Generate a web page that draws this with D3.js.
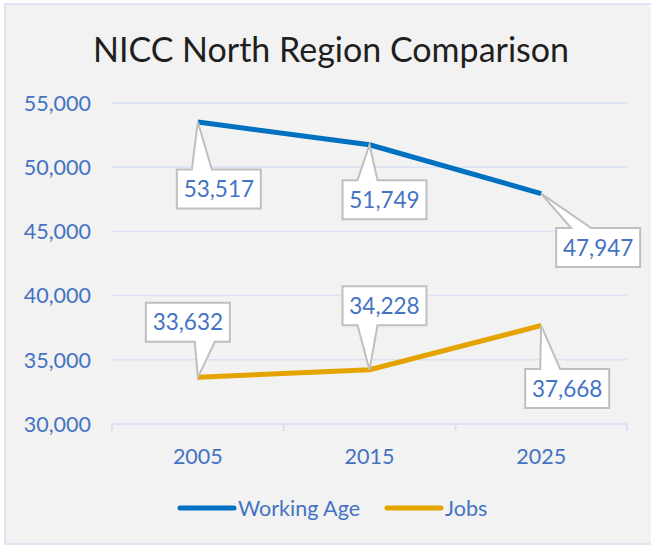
<!DOCTYPE html>
<html>
<head>
<meta charset="utf-8">
<script src="https://cdn.jsdelivr.net/npm/d3@7"></script>
<style>
  body { margin: 0; background: #fff; }
  svg text { font-family: Lato, "Noto Sans", sans-serif; }
</style>
</head>
<body>
<div id="chart"></div>
<script>
//
// NICC North Region line chart with callout labels.
//

var years = ["2005", "2015", "2025"];
var seriesNames = ["Working Age", "Jobs"];
var workingAge = [53517, 51749, 47947];
var jobs = [33632, 34228, 37668];
var yTicks = [30000, 35000, 40000, 45000, 50000, 55000];

// callout box centre offsets from the point (px)
var calloutOffsets = [
  [[21, 67], [15, 55], [57, 54]],
  [[-10, -55], [15, -64], [26, 63]]
];

const W = 651, H = 546;
const colors = ["#0070c0", "#e5a300"];
const textBlue = "#4472c4";
const gridColor = "#d9e1f2";

const svg = d3.select("#chart").append("svg")
  .attr("width", W).attr("height", H);

svg.append("rect")
  .attr("x", 5).attr("y", 4).attr("width", W + 10).attr("height", 540)
  .style("fill", "#f2f2f2").style("stroke", "#d6def0").style("stroke-width", 1.5);

svg.append("text")
  .attr("x", 331).attr("y", 62)
  .attr("text-anchor", "middle")
  .style("font-size", "34px").style("fill", "#1f1f1f")
  .text("NICC North Region Comparison");

const x = d3.scalePoint().domain(years).range([112, 627]).padding(0.5);
const y = d3.scaleLinear().domain([30000, 55000]).range([424, 103]);

// gridlines
svg.append("g").selectAll("line")
  .data(yTicks.slice(1))
  .join("line")
  .attr("x1", 112).attr("x2", 627)
  .attr("y1", d => y(d)).attr("y2", d => y(d))
  .style("stroke", gridColor).style("stroke-width", 1.5);

// y labels
svg.append("g").selectAll("text")
  .data(yTicks)
  .join("text")
  .attr("x", 91).attr("y", d => y(d))
  .attr("dy", "0.36em")
  .attr("text-anchor", "end")
  .style("font-size", "21.5px").style("fill", textBlue)
  .text(d => d3.format(",")(d));

// x axis
const step = x.step();
const xAxis = svg.append("g");
xAxis.append("line")
  .attr("x1", 112).attr("x2", 627).attr("y1", y(30000)).attr("y2", y(30000))
  .style("stroke", gridColor).style("stroke-width", 2);
xAxis.selectAll("line.tick")
  .data(d3.range(years.length + 1))
  .join("line").attr("class", "tick")
  .attr("x1", i => 112 + i * step).attr("x2", i => 112 + i * step)
  .attr("y1", y(30000)).attr("y2", y(30000) + 7)
  .style("stroke", gridColor).style("stroke-width", 2);
xAxis.selectAll("text")
  .data(years)
  .join("text")
  .attr("x", d => x(d)).attr("y", 464)
  .attr("text-anchor", "middle")
  .style("font-size", "21.5px").style("fill", textBlue)
  .text(d => d);

const line = d3.line().x((d, i) => x(years[i])).y(d => y(d));
const allSeries = [workingAge, jobs];

allSeries.forEach((vals, s) => {
  svg.append("path")
    .datum(vals)
    .attr("d", line)
    .style("fill", "none").style("stroke", colors[s])
    .style("stroke-width", 5).style("stroke-linejoin", "round");
});

// callouts
const bw = 84, bh = 39;
function calloutPath(px, py, cx, cy) {
  const l = cx - bw / 2, r = cx + bw / 2, t = cy - bh / 2, b = cy + bh / 2;
  const b0 = px < cx ? l + 15 : r - 35;
  const b1 = b0 + 20;
  if (py < t) {
    return `M${l},${t}L${b0},${t}L${px},${py}L${b1},${t}L${r},${t}L${r},${b}L${l},${b}Z`;
  }
  return `M${l},${t}L${r},${t}L${r},${b}L${b1},${b}L${px},${py}L${b0},${b}L${l},${b}Z`;
}

allSeries.forEach((vals, s) => {
  vals.forEach((v, i) => {
    const px = x(years[i]), py = y(v);
    const cx = px + calloutOffsets[s][i][0], cy = py + calloutOffsets[s][i][1];
    svg.append("path")
      .attr("d", calloutPath(px, py, cx, cy))
      .style("fill", "#fff").style("stroke", "#bfbfbf").style("stroke-width", 2)
      .style("stroke-linejoin", "miter");
    svg.append("text")
      .attr("x", cx).attr("y", cy).attr("dy", "0.36em")
      .attr("text-anchor", "middle")
      .style("font-size", "22.5px").style("fill", textBlue)
      .text(d3.format(",")(v));
  });
});

// legend
const legend = svg.append("g");
const legendX = [180, 387];
seriesNames.forEach((name, s) => {
  legend.append("line")
    .attr("x1", legendX[s]).attr("x2", legendX[s] + 54)
    .attr("y1", 508).attr("y2", 508)
    .style("stroke", colors[s]).style("stroke-width", 5).style("stroke-linecap", "round");
  legend.append("text")
    .attr("x", legendX[s] + 58).attr("y", 508).attr("dy", "0.36em")
    .style("font-size", "21.5px").style("fill", textBlue)
    .text(name);
});
</script>
</body>
</html>
